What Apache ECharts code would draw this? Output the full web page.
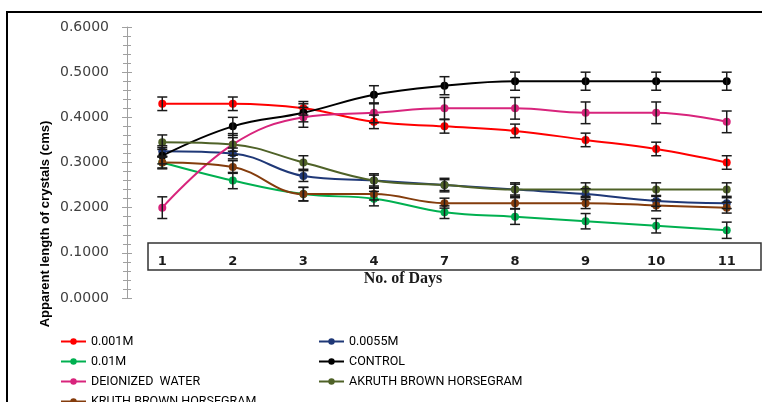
<!DOCTYPE html>
<html>
<head>
<meta charset="utf-8">
<script src="https://cdn.jsdelivr.net/npm/echarts@6/dist/echarts.min.js"></script>
<style>
  html, body { margin:0; padding:0; background:#fff; }
  #chart { width:762px; height:402px; }
</style>
</head>
<body>
<div id="chart"></div>
<script>
// days on the x axis
const days = ['1', '2', '3', '4', '7', '8', '9', '10', '11'];

// series values (cms)
const m0001 = [0.430, 0.430, 0.420, 0.390, 0.380, 0.370, 0.350, 0.330, 0.300];
const m00055 = [0.325, 0.320, 0.270, 0.260, 0.250, 0.240, 0.230, 0.215, 0.210];
const m001 = [0.300, 0.260, 0.230, 0.220, 0.190, 0.180, 0.170, 0.160, 0.150];
const control = [0.315, 0.380, 0.410, 0.450, 0.470, 0.480, 0.480, 0.480, 0.480];
const deionized = [0.200, 0.340, 0.400, 0.410, 0.420, 0.420, 0.410, 0.410, 0.390];
const akruth = [0.345, 0.340, 0.300, 0.260, 0.250, 0.240, 0.240, 0.240, 0.240];
const kruth = [0.300, 0.290, 0.230, 0.230, 0.210, 0.210, 0.210, 0.205, 0.200];

// error bar half-heights
const errM0001 = [0.015, 0.015, 0.015, 0.015, 0.015, 0.015, 0.015, 0.015, 0.015];
const errM00055 = [0.012, 0.012, 0.012, 0.012, 0.012, 0.012, 0.012, 0.012, 0.012];
const errM001 = [0.014, 0.018, 0.015, 0.016, 0.014, 0.017, 0.017, 0.016, 0.018];
const errControl = [0.018, 0.020, 0.020, 0.020, 0.020, 0.020, 0.020, 0.020, 0.020];
const errDeionized = [0.024, 0.024, 0.022, 0.022, 0.024, 0.024, 0.024, 0.024, 0.024];
const errAkruth = [0.016, 0.015, 0.015, 0.015, 0.015, 0.015, 0.015, 0.015, 0.015];
const errKruth = [0.012, 0.014, 0.015, 0.013, 0.011, 0.012, 0.012, 0.012, 0.012];

const yTicks = [0, 0.1, 0.2, 0.3, 0.4, 0.5, 0.6];

const seriesDefs = [
    { name:'0.001M', data:m0001, err:errM0001, color:'#ff0000' },
    { name:'0.0055M', data:m00055, err:errM00055, color:'#1f3877' },
    { name:'0.01M', data:m001, err:errM001, color:'#00b050' },
    { name:'CONTROL', data:control, err:errControl, color:'#000000' },
    { name:'DEIONIZED  WATER', data:deionized, err:errDeionized, color:'#d8247c' },
    { name:'AKRUTH BROWN HORSEGRAM', data:akruth, err:errAkruth, color:'#4f6228' },
    { name:'KRUTH BROWN HORSEGRAM', data:kruth, err:errKruth, color:'#843c0c' }
];

const chart = echarts.init(document.getElementById('chart'));

let lineSeries = seriesDefs.map(s=>({
    type:'line',
    name:s.name,
    data:s.data,
    smooth:0.4,
    symbol:'circle',
    symbolSize:8,
    itemStyle:{ color:s.color },
    lineStyle:{ color:s.color, width:2 },
    z:3
}));

let errSeries = seriesDefs.map(s=>({
    type:'custom',
    name:'err ' + s.name,
    data:s.data.map((v,i)=>[i, v - s.err[i], v + s.err[i]]),
    z:4,
    silent:true,
    renderItem:(params, api)=>{
        let lo = api.coord([api.value(0), api.value(1)]);
        let hi = api.coord([api.value(0), api.value(2)]);
        let w = 5;
        let style = { stroke:'#1a1a1a', lineWidth:1.5 };
        return {
            type:'group',
            children:[
                { type:'line', shape:{ x1:lo[0], y1:lo[1], x2:hi[0], y2:hi[1] }, style },
                { type:'line', shape:{ x1:lo[0]-w, y1:lo[1], x2:lo[0]+w, y2:lo[1] }, style },
                { type:'line', shape:{ x1:hi[0]-w, y1:hi[1], x2:hi[0]+w, y2:hi[1] }, style }
            ]
        };
    }
}));

const legendText = { fontFamily:'Roboto', fontSize:12.5, color:'#000', lineHeight:15 };

let option = {
    animation:false,
    backgroundColor:'#fff',
    grid:{ left:127, top:27, width:636, bottom:104 },
    xAxis:{
        type:'category',
        data:days,
        boundaryGap:true,
        axisLine:{ show:false },
        axisTick:{ show:false },
        axisLabel:{
            margin:-43,
            fontFamily:'DejaVu Sans',
            fontWeight:'bold',
            fontSize:13,
            color:'#1a1a1a'
        }
    },
    yAxis:[
        {
            type:'value',
            min:yTicks[0],
            max:yTicks[yTicks.length-1],
            interval:0.1,
            axisLine:{ show:true, lineStyle:{ color:'#a0a0a0' } },
            axisTick:{ show:true, length:5, lineStyle:{ color:'#a0a0a0' } },
            minorTick:{ show:true, splitNumber:5, length:4, lineStyle:{ color:'#a0a0a0' } },
            splitLine:{ show:false },
            axisLabel:{
                margin:18,
                fontFamily:'DejaVu Sans',
                fontSize:14,
                color:'#404040',
                formatter:v=>v.toFixed(4)
            }
        },
        {
            type:'value',
            position:'left',
            min:yTicks[0],
            max:yTicks[yTicks.length-1],
            interval:0.1,
            axisLine:{ show:false },
            axisTick:{ show:true, inside:true, length:5, lineStyle:{ color:'#a0a0a0' } },
            minorTick:{ show:true, splitNumber:5, length:4, lineStyle:{ color:'#a0a0a0' } },
            splitLine:{ show:false },
            axisLabel:{ show:false }
        }
    ],
    legend:[
        {
            orient:'vertical',
            left:55,
            top:329,
            height:120,
            itemWidth:25,
            itemHeight:8,
            itemGap:5,
            textStyle:legendText,
            data:['0.001M', '0.01M', 'DEIONIZED  WATER', 'KRUTH BROWN HORSEGRAM']
        },
        {
            orient:'vertical',
            left:313,
            top:329,
            height:120,
            itemWidth:25,
            itemHeight:8,
            itemGap:5,
            textStyle:legendText,
            data:['0.0055M', 'CONTROL', 'AKRUTH BROWN HORSEGRAM']
        }
    ],
    graphic:[
        {
            type:'rect',
            shape:{ x:7, y:12, width:820, height:460 },
            style:{ fill:'none', stroke:'#000', lineWidth:2 },
            silent:true
        },
        {
            type:'rect',
            shape:{ x:148, y:243, width:613, height:27 },
            style:{ fill:'none', stroke:'#333', lineWidth:1.5 },
            silent:true
        },
        {
            type:'text',
            x:403,
            y:279,
            style:{
                text:'No. of Days',
                font:'bold 16px "Liberation Serif"',
                fill:'#1a1a1a',
                textAlign:'center',
                textVerticalAlign:'middle'
            },
            silent:true
        },
        {
            type:'text',
            x:45,
            y:224,
            rotation:Math.PI/2,
            style:{
                text:'Apparent length of crystals (cms)',
                font:'bold 13px "Liberation Sans"',
                fill:'#000',
                textAlign:'center',
                textVerticalAlign:'middle'
            },
            silent:true
        }
    ],
    series:lineSeries.concat(errSeries)
};

chart.setOption(option);
</script>
</body>
</html>
